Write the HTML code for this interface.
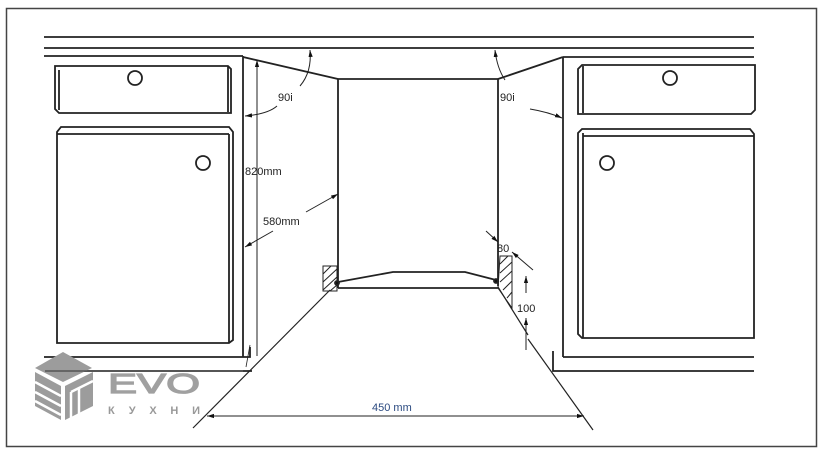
<!DOCTYPE html>
<html><head><meta charset="utf-8"><style>
html,body{margin:0;padding:0;background:#fff;width:821px;height:450px;overflow:hidden}
svg{display:block}
text{font-family:"Liberation Sans",Arial,sans-serif}
</style></head><body>
<svg width="821" height="450" viewBox="0 0 821 450" xmlns="http://www.w3.org/2000/svg">
<defs>
<marker id="a" viewBox="0 0 10 10" refX="10" refY="5" markerWidth="7" markerHeight="7" orient="auto-start-reverse"><path d="M0,2 L10,5 L0,8 z" fill="#111"/></marker>
</defs>
<rect x="6.5" y="8.5" width="810" height="438" fill="#fff" stroke="#444" stroke-width="1.5"/>
<g stroke="#222" stroke-width="1.8" fill="none">
<line x1="44" y1="37" x2="754" y2="37"/>
<line x1="44" y1="48" x2="754" y2="48"/>
<line x1="44" y1="56" x2="243" y2="56"/>
<line x1="563" y1="57" x2="754" y2="57"/>
<line x1="243" y1="56" x2="243" y2="357"/>
<polyline points="44,357 250,357 250,347"/>
<line x1="44" y1="371" x2="252" y2="371"/>
<path d="M55,66 L228,66 L231,69 L231,113 L59,113 L55,109 Z"/>
<line x1="59" y1="70" x2="59" y2="110"/>
<line x1="228" y1="66" x2="228" y2="112"/>
<path d="M61,127 L229,127 L233,132 L233,340 L229,343 L57,343 L57,132 Z"/>
<line x1="57" y1="134" x2="229" y2="134"/>
<line x1="229" y1="134" x2="229" y2="343"/>
<circle cx="135" cy="78" r="7"/>
<circle cx="203" cy="163" r="7"/>
<line x1="563" y1="57" x2="563" y2="357"/>
<polyline points="754,357 563,357"/>
<polyline points="553,351 553,371 754,371"/>
<path d="M582,65 L755,65 L755,110 L751,114 L578,114 L578,69 Z"/>
<line x1="583" y1="66" x2="583" y2="113"/>
<path d="M582,129 L750,129 L754,134 L754,338 L582,338 L578,334 L578,133 Z"/>
<line x1="583" y1="136" x2="754" y2="136"/>
<line x1="583" y1="133" x2="583" y2="338"/>
<circle cx="670" cy="78" r="7"/>
<circle cx="607" cy="163" r="7"/>
<line x1="243" y1="57" x2="338" y2="79"/>
<line x1="498" y1="79" x2="563" y2="57"/>
<line x1="338" y1="79" x2="498" y2="79"/>
<line x1="338" y1="79" x2="338" y2="288"/>
<line x1="498" y1="79" x2="498" y2="286"/>
<line x1="338" y1="288" x2="498" y2="288"/>
<polyline points="338,282 393,272 465,272 496,280"/>
<line x1="330" y1="290" x2="193" y2="428" stroke-width="1.2"/>
<line x1="498" y1="287" x2="528" y2="335" stroke-width="1.2"/>
<line x1="528" y1="339" x2="593" y2="430" stroke-width="1.2"/>
<line x1="246" y1="367" x2="250" y2="345" stroke-width="0.8"/>
<rect x="323" y="266" width="14" height="25" stroke-width="1"/>
<path d="M323,274 L331,266 M323,282 L337,269 M323,290 L337,277 M330,291 L337,285" stroke-width="1"/>
<path d="M500,256 L512,256 L512,308 L498,288 Z" stroke-width="1"/>
<path d="M500,264 L508,256 M500,273 L512,262 M500,282 L512,271 M503,290 L512,281 M507,298 L512,292" stroke-width="1"/>
<circle cx="337" cy="283" r="2" fill="#111"/>
<circle cx="496" cy="281" r="2" fill="#111"/>
<line x1="257" y1="60" x2="257" y2="356" stroke-width="1" marker-start="url(#a)"/>
<line x1="245" y1="247" x2="273" y2="231" stroke-width="1" marker-start="url(#a)"/>
<line x1="306" y1="212" x2="338" y2="194" stroke-width="1" marker-end="url(#a)"/>
<path d="M310,50 Q312,72 300,86" stroke-width="1" marker-start="url(#a)"/>
<path d="M277,106 Q268,114 245,116" stroke-width="1" marker-end="url(#a)"/>
<path d="M495,50 Q497,68 505,80" stroke-width="1" marker-start="url(#a)"/>
<path d="M530,109 Q548,112 562,118" stroke-width="1" marker-end="url(#a)"/>
<line x1="486" y1="231" x2="498" y2="242" stroke-width="1" marker-end="url(#a)"/>
<line x1="512" y1="252" x2="533" y2="270" stroke-width="1" marker-start="url(#a)"/>
<line x1="526" y1="276" x2="526" y2="293" stroke-width="1" marker-start="url(#a)"/>
<line x1="526" y1="318" x2="526" y2="350" stroke-width="1" marker-start="url(#a)"/>
<line x1="207" y1="416" x2="584" y2="416" stroke-width="1" marker-start="url(#a)" marker-end="url(#a)"/>
</g>
<g font-size="11" fill="#222">
<text x="278" y="101">90i</text>
<text x="500" y="101">90i</text>
<text x="245" y="175">820mm</text>
<text x="263" y="225">580mm</text>
<text x="497" y="252">80</text>
<text x="517" y="312">100</text>
</g>
<text x="372" y="411" font-size="11" fill="#2b4a80">450 mm</text>
<g fill="#9c9c9c">
<polygon points="35,368 63,352 92,368 63,382"/>
<polygon points="35,372 61,386 61,420 35,406"/>
<polygon points="65,386 93,372 93,406 65,420"/>
</g>
<g stroke="#fff" stroke-width="2.5">
<line x1="35" y1="382" x2="61" y2="396"/><line x1="35" y1="392" x2="61" y2="406"/><line x1="35" y1="401" x2="61" y2="415"/>
<line x1="71" y1="392" x2="71" y2="418"/><line x1="79" y1="388" x2="79" y2="414"/><line x1="71" y1="392" x2="93" y2="381"/>
</g>
<line x1="45" y1="371" x2="243" y2="371" stroke="#555" stroke-width="1.4"/>
<text x="108" y="393" font-size="28" fill="#a0a0a0" stroke="#a0a0a0" stroke-width="1.2" textLength="92" lengthAdjust="spacingAndGlyphs">EVO</text>
<text x="108" y="414" font-size="11" fill="#999" font-weight="bold" textLength="92" lengthAdjust="spacing">КУХНИ</text>
</svg>
</body></html>
